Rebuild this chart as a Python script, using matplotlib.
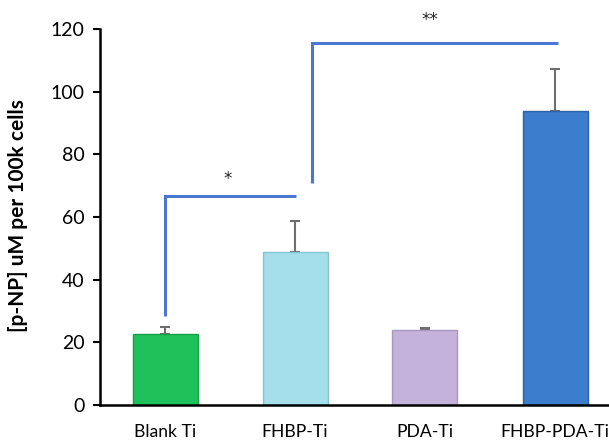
import matplotlib
matplotlib.use("Agg")
import matplotlib.pyplot as plt

categories = ["Blank Ti", "FHBP-Ti", "PDA-Ti", "FHBP-PDA-Ti"]
values = [22.7, 48.8, 23.9, 93.8]
errors = [2.2, 9.9, 0.7, 13.4]
colors = ["#1fc25a", "#a6dfec", "#c4b2da", "#3c7ccc"]
edge_colors = ["#14a045", "#86c3d2", "#a898c0", "#2c62a8"]
yticks = [0, 20, 40, 60, 80, 100, 120]

# significance brackets: (x_start, x_end, y_bracket, y_bottom_of_vertical, label, label_x, label_y)
brackets = [
    (0, 1.01, 66.7, 28.4, "*", 0.485, 72.0),
    (1.13, 3.02, 115.5, 70.9, "**", 2.04, 122.8),
]

plt.rcParams['font.family'] = ['Lato', 'DejaVu Sans']

fig = plt.figure(figsize=(6.09, 4.48), dpi=100)
ax = fig.add_axes([100/609, 43/448, 520/609, 376/448])

x = list(range(len(categories)))
ax.bar(x, values, width=0.5, color=colors, edgecolor=edge_colors, linewidth=1.0, zorder=2)
ax.errorbar(x, values, yerr=[[0]*len(errors), errors], fmt='none', ecolor='#6e6e6e',
            elinewidth=1.5, capsize=3.5, capthick=1.5, zorder=1)

bracket_color = "#4a78d0"
for x0, x1, yb, ybot, lab, lx, ly in brackets:
    ax.plot([x0, x0, x1], [ybot, yb, yb], color=bracket_color, linewidth=2.2,
            solid_capstyle='butt', solid_joinstyle='miter', zorder=3, clip_on=False)
    ax.text(lx, ly, lab, ha='center', va='center', fontsize=12, color='#222222',
            family=['DejaVu Sans'])

ax.set_xlim(-0.5, 3.5)
ax.set_ylim(0, 120)
ax.set_yticks(yticks)
ax.set_yticklabels([str(t) for t in yticks], fontsize=14)
ax.set_xticks(x)
ax.set_xticklabels(categories, fontsize=12.6)
ax.tick_params(axis='x', length=0, pad=14)
ax.tick_params(axis='y', length=5, width=1.5, direction='out', pad=6)

for s in ['top', 'right']:
    ax.spines[s].set_visible(False)
ax.spines['left'].set_linewidth(1.8)
ax.spines['bottom'].set_linewidth(1.8)

ax.set_ylabel("[p-NP] uM per 100k cells", fontsize=15, fontweight='bold', labelpad=10)
ax.yaxis.set_label_coords(-72/520, 0.505)

fig.savefig("out.png", dpi=100)
